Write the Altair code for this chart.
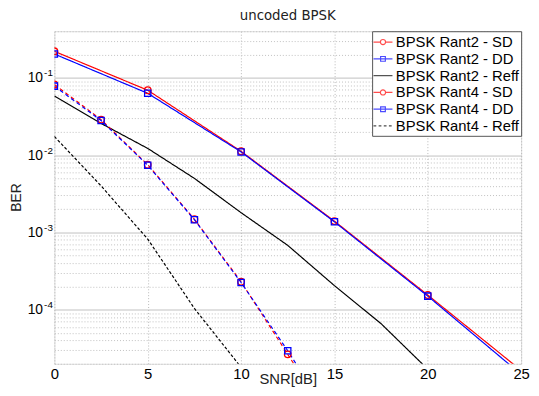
import altair as alt
import pandas as pd

# ---- data ----
series_names = [
    "BPSK Rant2 - SD",
    "BPSK Rant2 - DD",
    "BPSK Rant2 - Reff",
    "BPSK Rant4 - SD",
    "BPSK Rant4 - DD",
    "BPSK Rant4 - Reff",
]
series_colors = ["#ff0000", "#0000ff", "#000000", "#ff0000", "#0000ff", "#000000"]

snr_r2 = [0, 5, 10, 15, 20, 25]
ber_r2_sd = [0.22, 0.069, 0.0112, 1.40e-3, 1.55e-4, 1.64e-5]
ber_r2_dd = [0.203, 0.063, 0.0110, 1.37e-3, 1.50e-4, 1.46e-5]

snr_r2_ref = [0, 2.5, 5, 7.5, 10, 12.5, 15, 17.5, 20]
ber_r2_ref = [0.058, 0.0257, 0.0122, 5.0e-3, 1.8e-3, 6.8e-4, 2.05e-4, 6.6e-5, 1.7e-5]

snr_r4 = [0, 2.5, 5, 7.5, 10, 12.5, 15]
ber_r4_sd = [0.082, 0.0288, 7.5e-3, 1.48e-3, 2.30e-4, 2.65e-5, 3.0e-6]
ber_r4_dd = [0.078, 0.0280, 7.4e-3, 1.46e-3, 2.25e-4, 2.95e-5, 3.3e-6]

snr_r4_ref = [0, 2.5, 5, 7.5, 10, 12.5]
ber_r4_ref = [0.0174, 4.0e-3, 8.2e-4, 1.04e-4, 1.8e-5, 2.5e-6]

x_ticks = [0, 5, 10, 15, 20, 25]
y_decades = [1e-1, 1e-2, 1e-3, 1e-4]
y_decade_base = "10"
y_decade_exponents = ["-1", "-2", "-3", "-4"]
y_minor_mult = [2, 3, 4, 5, 6, 7, 8, 9]
y_domain = [2e-5, 0.4]

# ---- table ----
rows = []
def add(name, xs, ys):
    for x, y in zip(xs, ys):
        rows.append({"series": name, "snr": x, "ber": y})

add(series_names[0], snr_r2, ber_r2_sd)
add(series_names[1], snr_r2, ber_r2_dd)
add(series_names[2], snr_r2_ref, ber_r2_ref)
add(series_names[3], snr_r4, ber_r4_sd)
add(series_names[4], snr_r4, ber_r4_dd)
add(series_names[5], snr_r4_ref, ber_r4_ref)
df = pd.DataFrame(rows)

y_ticks = []
for d in [1e-5, 1e-4, 1e-3, 1e-2, 1e-1]:
    for m in [1] + y_minor_mult:
        v = m * d
        if y_domain[0] <= v * 1.0000001 and v <= y_domain[1] * 1.0000001:
            y_ticks.append(float(f"{v:.6g}"))

base_expr = ""
exp_expr = ""
for v, e in zip(y_decades, y_decade_exponents):
    base_expr += f"abs(datum.value - {v}) < {v * 1e-6} ? '{y_decade_base}' : "
    exp_expr += f"abs(datum.value - {v}) < {v * 1e-6} ? '{e}' : "
base_expr += "''"
exp_expr += "''"

grid_cond = {
    "condition": {
        "test": "abs(log(datum.value)/LN10 - round(log(datum.value)/LN10)) < 0.001",
        "value": [],
    },
    "value": [1, 2],
}

FONT = "Liberation Sans"

x_enc = alt.X(
    "snr:Q",
    scale=alt.Scale(domain=[0, 25], nice=False, zero=False),
    axis=alt.Axis(
        values=x_ticks, title="SNR[dB]", grid=True, gridDash=[1, 2], gridColor="#b8b8b8",
        ticks=False, domain=False, labelFontSize=15, labelFont=FONT, labelColor="#000",
        labelPadding=3, titleFont=FONT, titleFontSize=15, titleFontWeight="normal",
        titleColor="#222", titleY=20, titleBaseline="alphabetic", labelFlush=False,
    ),
)
y_enc = alt.Y(
    "ber:Q",
    scale=alt.Scale(type="log", domain=y_domain, nice=False),
    axis=alt.Axis(
        values=y_ticks, labelExpr=base_expr, title="BER", grid=True, gridDash=grid_cond,
        gridColor="#c0c0c0", ticks=False, domain=False, labelFontSize=14, labelFont=FONT,
        labelColor="#000", labelPadding=12, labelOverlap=False, titleFont=FONT,
        titleFontSize=14, titleFontWeight="normal", titleColor="#222",
        titleX=-31, titleY=168, titleBaseline="bottom",
    ),
)
y_exp_enc = alt.Y(
    "ber:Q",
    scale=alt.Scale(type="log", domain=y_domain, nice=False),
    axis=alt.Axis(
        values=y_decades, labelExpr=exp_expr, title=None, grid=False, ticks=False,
        domain=False, labelFontSize=10, labelFont=FONT, labelColor="#000",
        labelPadding=2, labelOffset=-5, labelOverlap=False, orient="left",
    ),
)
color_scale = alt.Scale(domain=series_names, range=series_colors)

dashes = {
    series_names[0]: [1, 0],
    series_names[1]: [1, 0],
    series_names[2]: [1, 0],
    series_names[3]: [4, 3],
    series_names[4]: [4, 3],
    series_names[5]: [3, 2],
}

# legend-only layer (no data rows drawn); first so its legend settings win
sym_circle = "M -1.2 0 L -0.33 0 M 0.33 0 L 1.2 0 M 0.33 0 A 0.33 0.33 0 1 1 -0.33 0 A 0.33 0.33 0 1 1 0.33 0"
sym_square = "M -1.2 0 L 1.2 0 M -0.3 -0.3 L 0.3 -0.3 L 0.3 0.3 L -0.3 0.3 Z"
sym_line = "M -1.2 0 L 1.2 0"
sym_dash = "M -1.2 0 L -0.85 0 M -0.55 0 L -0.2 0 M 0.1 0 L 0.45 0 M 0.75 0 L 1.1 0"
legend_shapes = [sym_circle, sym_square, sym_line, sym_circle, sym_square, sym_dash]

legend = alt.Legend(
    title=None, orient="top-right", offset=0, fillColor="white", strokeColor="#555",
    padding=2, labelFont=FONT, labelFontSize=15, labelColor="#000", labelLimit=300,
    symbolSize=256, symbolStrokeWidth=1.2, rowPadding=0, labelOffset=4,
    symbolFillColor="transparent",
)

layers = [
    alt.Chart(df)
    .transform_filter(alt.datum.snr < -1000)
    .mark_point(filled=False)
    .encode(
        x=x_enc, y=y_enc,
        color=alt.Color("series:N", scale=color_scale, legend=legend),
        shape=alt.Shape("series:N", scale=alt.Scale(domain=series_names, range=legend_shapes), legend=legend),
    )
]

line_order = [series_names[2], series_names[5], series_names[0], series_names[1],
              series_names[3], series_names[4]]
for name in line_order:
    layers.append(
        alt.Chart(df)
        .transform_filter(alt.datum.series == name)
        .mark_line(clip=True, strokeWidth=1.2, strokeDash=dashes[name])
        .encode(x=x_enc, y=y_enc, color=alt.Color("series:N", scale=color_scale))
    )

sd_names = [series_names[0], series_names[3]]
dd_names = [series_names[1], series_names[4]]
layers.append(
    alt.Chart(df)
    .transform_filter(alt.FieldOneOfPredicate(field="series", oneOf=sd_names))
    .mark_point(shape="circle", filled=False, size=45, strokeWidth=1.3, clip=True, opacity=1)
    .encode(x=x_enc, y=y_enc, color=alt.Color("series:N", scale=color_scale))
)
layers.append(
    alt.Chart(df)
    .transform_filter(alt.FieldOneOfPredicate(field="series", oneOf=dd_names))
    .mark_point(shape="square", filled=False, size=40, strokeWidth=1.3, clip=True, opacity=1)
    .encode(x=x_enc, y=y_enc, color=alt.Color("series:N", scale=color_scale))
)

main = alt.layer(*layers)

exp_layer = (
    alt.Chart(df)
    .transform_filter(alt.datum.snr < -1000)
    .mark_point(filled=False)
    .encode(x=x_enc, y=y_exp_enc)
)

chart = (
    alt.layer(main, exp_layer)
    .resolve_axis(y="independent")
    .properties(
        width=473, height=337,
        title=alt.TitleParams("uncoded  BPSK", font="DejaVu Sans", fontSize=13.5,
                              fontWeight="normal", color="#222", offset=2),
        autosize=alt.AutoSizeParams(type="none"),
        padding={"left": 47, "top": 21, "right": 10, "bottom": 22},
    )
    .configure_view(stroke="#888", strokeWidth=1)
    .configure(background="white")
)

chart.save("out.html", embed_options={"renderer": "svg", "actions": False})
